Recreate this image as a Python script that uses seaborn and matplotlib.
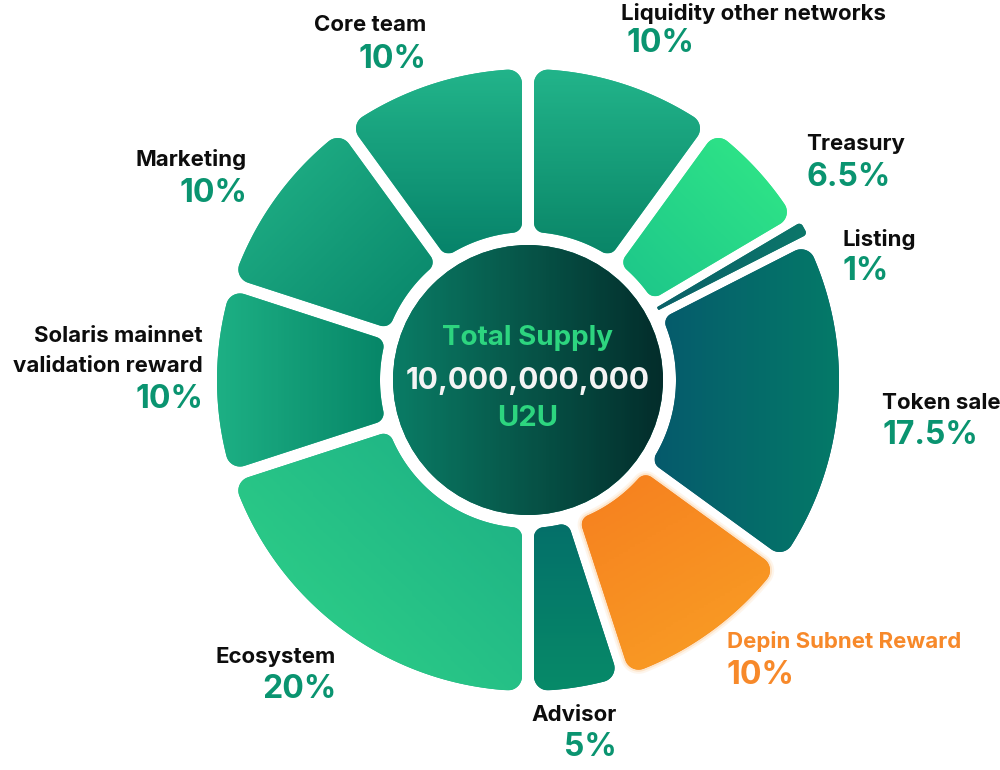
import numpy as np
import seaborn as sns
import matplotlib.pyplot as plt
from matplotlib.path import Path
from matplotlib.patches import PathPatch, Circle
from matplotlib.colors import to_rgb

# Token allocation data (clockwise from 12 o'clock)
categories = ['Liquidity other networks', 'Treasury', 'Listing', 'Token sale',
              'Depin Subnet Reward', 'Advisor', 'Ecosystem',
              'Solaris mainnet\nvalidation reward', 'Marketing', 'Core team']
shares = [10, 6.5, 1, 17.5, 10, 5, 20, 10, 10, 10]

# gradient colours per slice: (start colour, end colour, direction in degrees)
gradients = [
    ('#22b48a', '#0a8668', -90),
    ('#31e887', '#1dc68a', -135),
    ('#0c7c6a', '#0a5a68', 160),
    ('#065a6c', '#047a68', 0),
    ('#f67f1f', '#f9a025', -60),
    ('#04706a', '#078a68', -90),
    ('#1cae85', '#30d488', -135),
    ('#1db084', '#078668', 0),
    ('#22b488', '#08856a', -45),
    ('#22b48a', '#07836a', -90),
]

# label layout in image pixels: x, label y, percent y, alignment
label_layout = [
    (621, 13, 44, 'left'),
    (806, 144, 178, 'left'),
    (842, 239, 272, 'left'),
    (882, 403, 436, 'left'),
    (727, 641, 676, 'left'),
    (617, 715, 748, 'right'),
    (336, 657, 690, 'right'),
    (203, 351, 399, 'right'),
    (247, 160, 194, 'right'),
    (426, 25, 59, 'right'),
]

W, H = 1000, 770
CX, CY = 528, H - 380
R_OUT, R_IN = 311, 148

sns.set_theme(style='white')
plt.rcParams['font.family'] = ['Inter', 'DejaVu Sans']


def rounded_sector(t1, t2, r_in, r_out, d, rad_in, rad_out, n=14):
    a1, a2 = np.radians(t1), np.radians(t2)
    u1 = np.array([np.cos(a1), np.sin(a1)]); n1 = np.array([-np.sin(a1), np.cos(a1)])
    u2 = np.array([np.cos(a2), np.sin(a2)]); n2 = np.array([np.sin(a2), -np.cos(a2)])

    def pol(rho, phi):
        return np.array([rho * np.cos(phi), rho * np.sin(phi)])

    def fillet(c, p0, p1, r):
        b0 = np.arctan2(*(p0 - c)[::-1])
        b1 = np.arctan2(*(p1 - c)[::-1])
        delta = (b1 - b0 + np.pi) % (2 * np.pi) - np.pi
        t = np.linspace(b0, b0 + delta, n)
        return np.column_stack([c[0] + r * np.cos(t), c[1] + r * np.sin(t)])

    def arc(r, p0, p1):
        t = np.linspace(p0, p1, 60)
        return np.column_stack([r * np.cos(t), r * np.sin(t)])

    p_i1 = a1 + np.arcsin((d + rad_in) / (r_in + rad_in))
    p_o1 = a1 + np.arcsin((d + rad_out) / (r_out - rad_out))
    p_o2 = a2 - np.arcsin((d + rad_out) / (r_out - rad_out))
    p_i2 = a2 - np.arcsin((d + rad_in) / (r_in + rad_in))
    ci1, co1 = pol(r_in + rad_in, p_i1), pol(r_out - rad_out, p_o1)
    co2, ci2 = pol(r_out - rad_out, p_o2), pol(r_in + rad_in, p_i2)

    pts = np.vstack([
        fillet(ci1, pol(r_in, p_i1), ci1 @ u1 * u1 + d * n1, rad_in),
        fillet(co1, co1 @ u1 * u1 + d * n1, pol(r_out, p_o1), rad_out),
        arc(r_out, p_o1, p_o2),
        fillet(co2, pol(r_out, p_o2), co2 @ u2 * u2 + d * n2, rad_out),
        fillet(ci2, ci2 @ u2 * u2 + d * n2, pol(r_in, p_i2), rad_in),
        arc(r_in, p_i2, p_i1),
    ])
    pts = pts + np.array([CX, CY])
    return Path(np.vstack([pts, pts[:1]]), closed=True)


def gradient_fill(ax, patch, c0, c1, angle, zorder=2):
    ext = patch.get_patch_transform().transform_path(patch.get_path()).get_extents()
    x0, x1, y0, y1 = ext.x0, ext.x1, ext.y0, ext.y1
    gx, gy = np.meshgrid(np.linspace(x0, x1, 80), np.linspace(y0, y1, 80))
    v = np.array([np.cos(np.radians(angle)), np.sin(np.radians(angle))])
    proj = gx * v[0] + gy * v[1]
    t = (proj - proj.min()) / (proj.max() - proj.min())
    pal = np.array(sns.blend_palette([c0, c1], n_colors=64))
    img = pal[np.clip((t * 63).round().astype(int), 0, 63)]
    im = ax.imshow(img, extent=(x0, x1, y0, y1), origin='lower',
                   interpolation='bilinear', zorder=zorder, aspect='auto')
    im.set_clip_path(patch)


fig = plt.figure(figsize=(W / 100, H / 100), dpi=100)
ax = fig.add_axes([0, 0, 1, 1])

wedges, _ = ax.pie(shares, startangle=90, counterclock=False, radius=R_OUT,
                   center=(CX, CY), wedgeprops=dict(width=R_OUT - R_IN))

for i, w in enumerate(wedges):
    w.set_visible(False)
    listing = categories[i] == 'Listing'
    path = rounded_sector(w.theta1, w.theta2, R_IN, R_OUT + (4 if listing else 0),
                          3.0 if listing else 6.0,
                          1.0 if listing else 10.0,
                          4.0 if listing else 14.0)
    c0, c1, ang = gradients[i]
    if categories[i].startswith('Depin'):
        for lw, a in [(6, 0.10), (3, 0.20)]:
            ax.add_patch(PathPatch(path, facecolor='none', edgecolor='#f9a040',
                                   lw=lw, alpha=a, zorder=1))
    patch = PathPatch(path, facecolor=to_rgb(c0), edgecolor='none', zorder=2)
    ax.add_patch(patch)
    gradient_fill(ax, patch, c0, c1, ang)

# centre disc
disc = Circle((CX, CY), 135, facecolor='#076b5a', edgecolor='none', zorder=2)
ax.add_patch(disc)
gradient_fill(ax, disc, '#0a7c65', '#032d2b', 0)

ax.text(CX, H - 338, 'Total Supply', ha='center', va='center', fontsize=20,
        fontweight='bold', color='#2dd57f', zorder=5)
ax.text(CX, H - 381, '10,000,000,000', ha='center', va='center', fontsize=21.5,
        fontweight='bold', color='#f4f4f4', zorder=5)
ax.text(CX, H - 418, 'U2U', ha='center', va='center', fontsize=21,
        fontweight='bold', color='#2dd57f', zorder=5)

# slice labels
for name, val, (x, yl, yp, ha) in zip(categories, shares, label_layout):
    orange = name.startswith('Depin')
    ax.text(x, H - yl, name, ha=ha, va='center', fontsize=16, fontweight='bold',
            color='#f7892a' if orange else '#0d0d0d', linespacing=1.6, zorder=5)
    ax.text(x + (6 if ha == 'left' and yl < 20 else 0), H - yp, f'{val:g}%',
            ha=ha, va='center', fontsize=23, fontweight='bold',
            color='#f7892a' if orange else '#0a9470', zorder=5)

ax.set_xlim(0, W)
ax.set_ylim(0, H)
ax.set_aspect('equal')
ax.axis('off')
fig.savefig('out.png', dpi=100, facecolor='white')
